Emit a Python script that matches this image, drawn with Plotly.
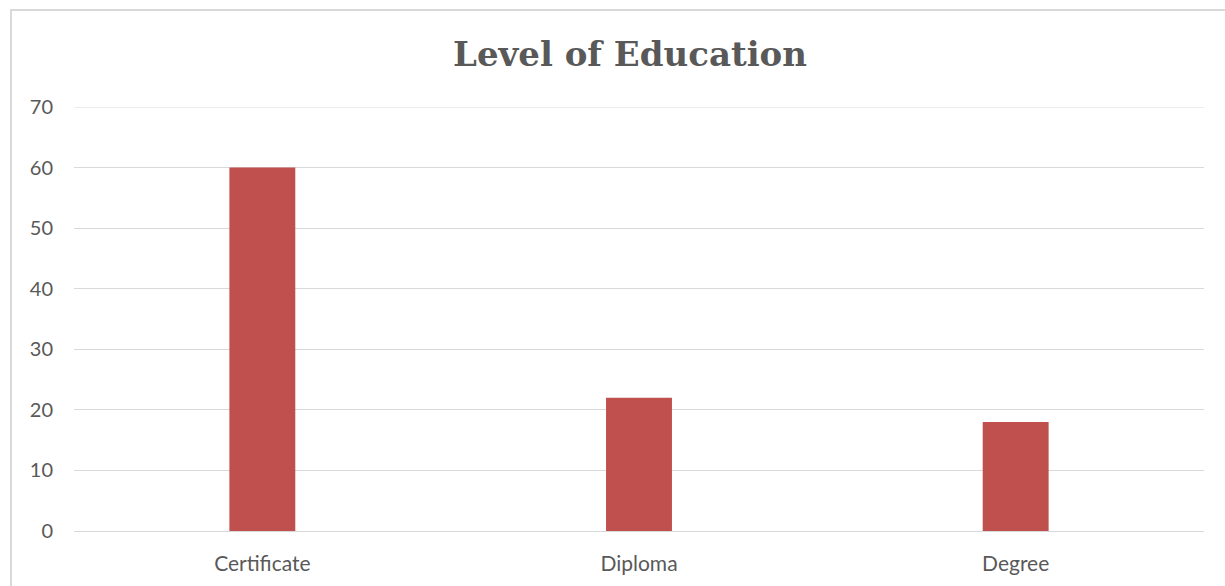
import plotly.graph_objects as go

categories = ["Certificate", "Diploma", "Degree"]
values = [60, 22, 18]
y_ticks = [0, 10, 20, 30, 40, 50, 60, 70]

W, H = 1225, 586
L, R, T, B = 74, 21, 107, 55
pw, ph = W - L - R, H - T - B

def px_x(x):
    return (x - L) / pw

def px_y(y):
    return (H - B - y) / ph

fig = go.Figure(go.Bar(
    x=categories, y=values,
    marker=dict(color="#C0504D", line=dict(width=0)),
    width=0.175,
))

fig.update_layout(
    width=W, height=H,
    margin=dict(l=L, r=R, t=T, b=B),
    paper_bgcolor="white", plot_bgcolor="white",
    showlegend=False,
    title=dict(
        text="<b>Level of Education</b>",
        font=dict(family="DejaVu Serif", size=34, color="#595959"),
        x=630 / W, xanchor="center",
        y=1 - 54 / H, yanchor="middle",
        xref="container", yref="container",
    ),
    xaxis=dict(
        showgrid=False, zeroline=False, showline=False,
        ticks="", ticklabelstandoff=18,
        tickfont=dict(family="Lato", size=21, color="#595959"),
    ),
    yaxis=dict(
        range=[0, max(y_ticks)], tickvals=y_ticks,
        showgrid=True, gridcolor="#D9D9D9", gridwidth=1,
        zeroline=True, zerolinecolor="#D9D9D9", zerolinewidth=1,
        showline=False, ticks="",
        ticklabelstandoff=20,
        tickfont=dict(family="Lato", size=20, color="#595959"),
    ),
    shapes=[
        dict(
            type="rect", xref="paper", yref="paper",
            x0=px_x(11), x1=px_x(1240), y0=px_y(600), y1=px_y(10),
            line=dict(color="#D9D9D9", width=2), fillcolor="rgba(0,0,0,0)",
            layer="below",
        ),
        dict(
            type="line", xref="paper", yref="y",
            x0=0, x1=1, y0=max(y_ticks), y1=max(y_ticks),
            line=dict(color="#D9D9D9", width=1), layer="below",
        ),
    ],
)

fig.write_html("out.html")
